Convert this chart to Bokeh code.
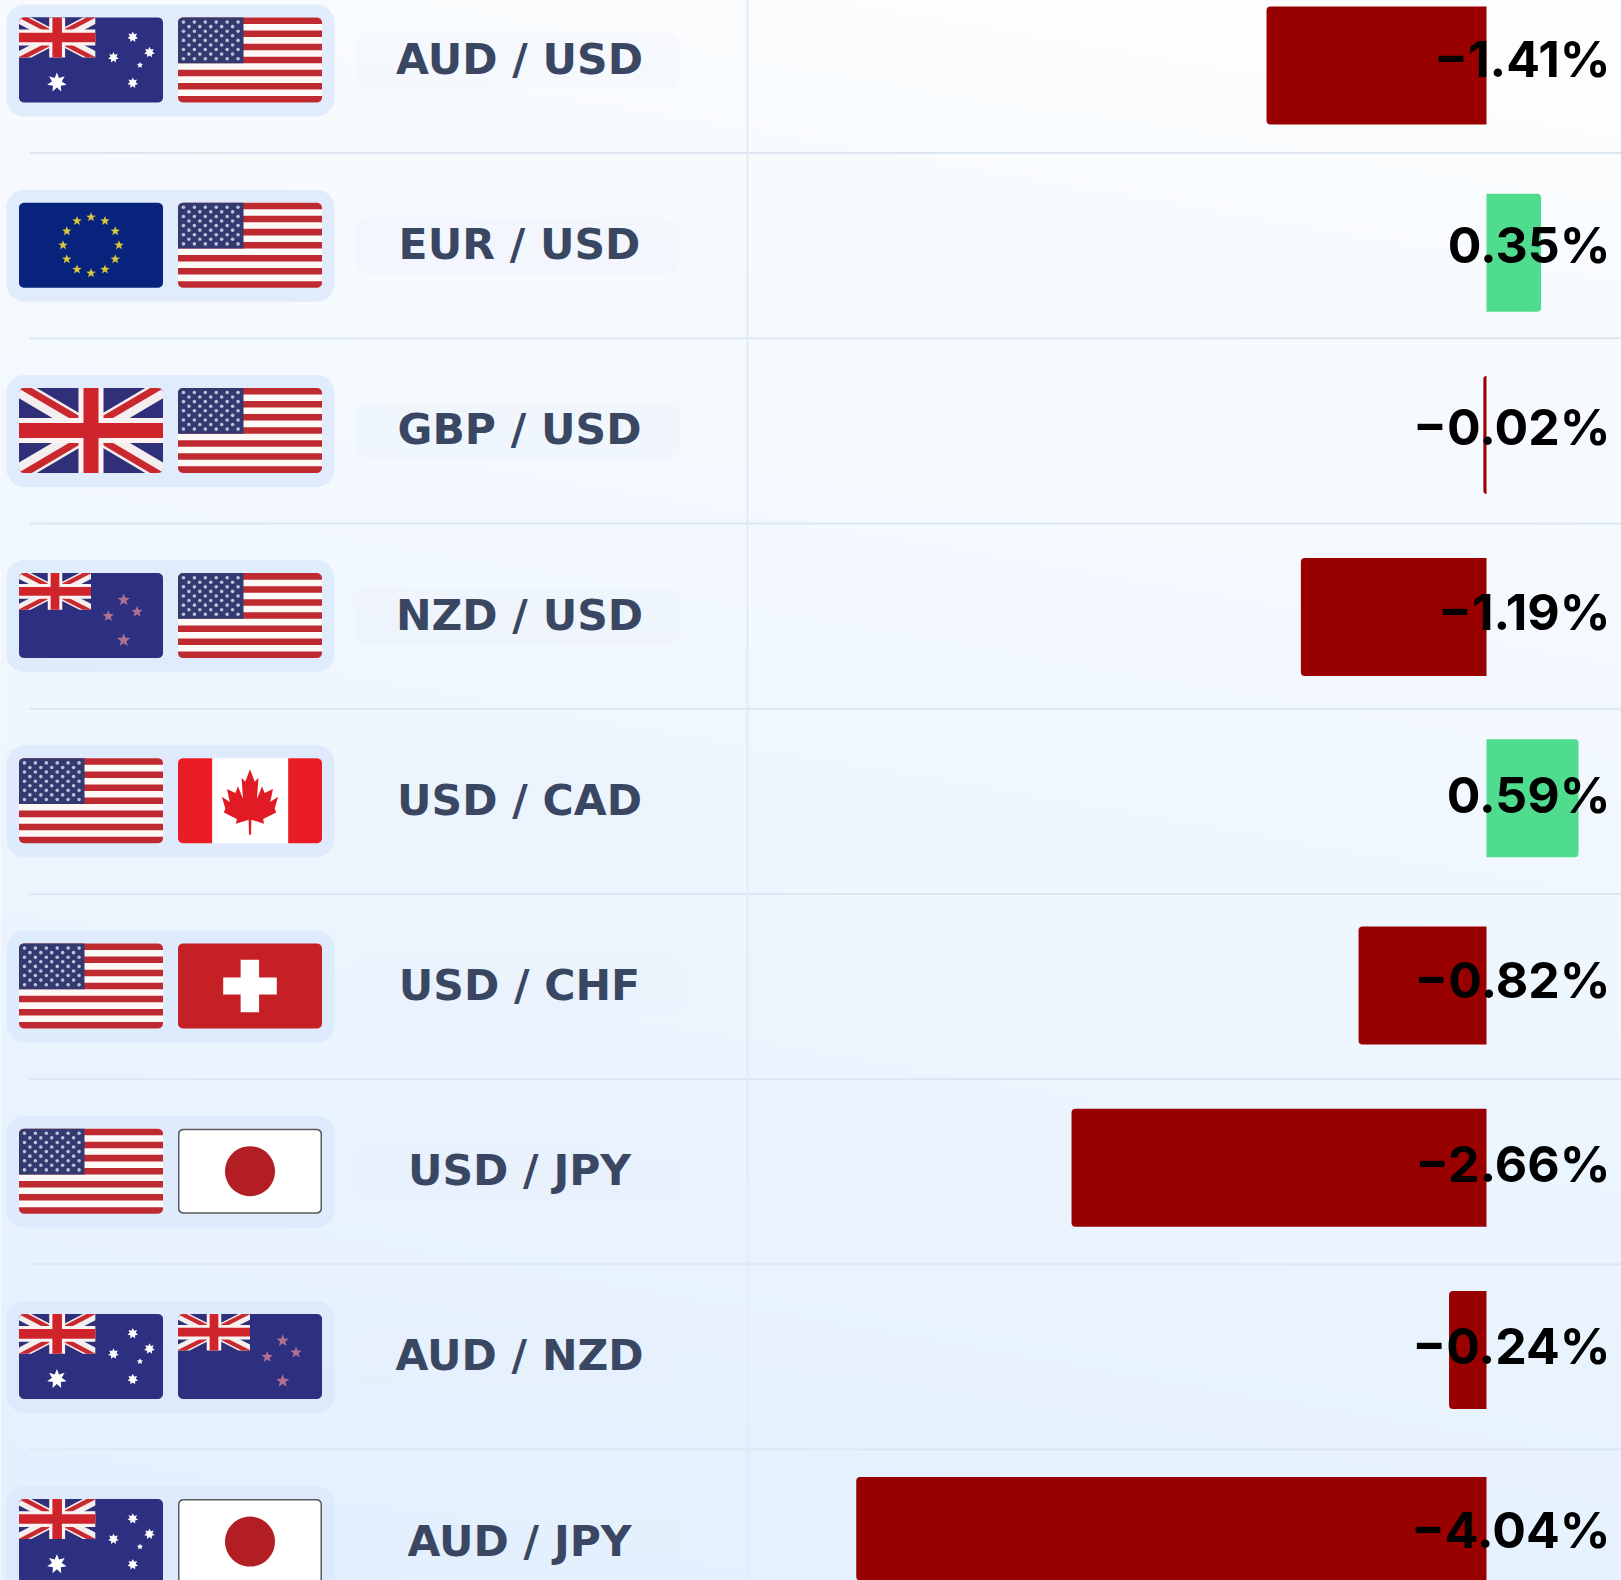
import math
import numpy as np
from bokeh.core.properties import value
from bokeh.embed import file_html
from bokeh.models import Range1d
from bokeh.plotting import figure
from bokeh.resources import INLINE

# ---- data ----
base = ["AUD", "EUR", "GBP", "NZD", "USD", "USD", "USD", "AUD", "AUD"]
quote = ["USD", "USD", "USD", "USD", "CAD", "CHF", "JPY", "NZD", "JPY"]
change = [-1.41, 0.35, -0.02, -1.19, 0.59, -0.82, -2.66, -0.24, -4.04]

# ---- layout ----
W, H = 1621, 1580
ROW0, STEP = 60.0, 185.2
ZERO_X, PX_PER_PCT = 1486.0, 156.0
BAR_H = 118.0
bar_nudge = [5, 7, 4, 1, -3, -1, -4, -7, -6]
text_nudge = [-2, -1, -4, -4, -6, -7, -8, -11, -12]

RED = "#990000"
GREEN = "#50dc8e"
INK = "#3a4763"
NAVY = "#2d2f80"
USRED = "#bf2a30"
USBLUE = "#343a70"

p = figure(width=W, height=H, toolbar_location=None, output_backend="svg",
           x_axis_type=None, y_axis_type=None, min_border=0, outline_line_color=None,
           x_range=Range1d(-ZERO_X / PX_PER_PCT, (W - ZERO_X) / PX_PER_PCT),
           y_range=Range1d((H - ROW0) / STEP, -ROW0 / STEP),
           margin=(0, -8, -8, 0))
p.extra_x_ranges = {"px": Range1d(0, W)}
p.extra_y_ranges = {"px": Range1d(H, 0), "up": Range1d(0, H)}
p.grid.visible = False
p.background_fill_color = "#f3f8fe"
p.border_fill_color = None
PX = dict(x_range_name="px", y_range_name="px")

# ---- background wash ----
ny, nx = 200, 200
yy, xx = np.mgrid[0:ny, 0:nx]
t = 1 - (yy / (ny - 1)) * 0.85 - (xx / (nx - 1)) * 0.15
t = np.clip(t, 0, 1)
c0, c1 = np.array([253, 254, 255]), np.array([226, 240, 254])
img = np.zeros((ny, nx), dtype=np.uint32)
view = img.view(dtype=np.uint8).reshape((ny, nx, 4))
for k in range(3):
    view[:, :, k] = (c0[k] + (c1[k] - c0[k]) * t).astype(np.uint8)
view[:, :, 3] = 255
p.image_rgba(image=[img], x=0, y=0, dw=W, dh=H, x_range_name="px", y_range_name="up")

# ---- separators ----
rows = list(range(len(change)))
p.segment(x0=[29] * 8, x1=[W] * 8, y0=[ROW0 + STEP * (i + .5) for i in rows[:8]],
          y1=[ROW0 + STEP * (i + .5) for i in rows[:8]], line_color="#dde7f1", line_width=2, **PX)
p.segment(x0=[747], x1=[747], y0=[0], y1=[H], line_color="#e2ebf5", line_width=2, **PX)

# ---- polygon helpers ----
polys_x, polys_y, polys_c = [], [], []
dots_x, dots_y = [], []


def round_rect(x0, y0, x1, y1, r, n=5):
    pts = []
    for cx, cy, a0 in ((x1 - r, y0 + r, -90), (x1 - r, y1 - r, 0), (x0 + r, y1 - r, 90), (x0 + r, y0 + r, 180)):
        for k in range(n + 1):
            a = math.radians(a0 + 90 * k / n)
            pts.append((cx + r * math.cos(a), cy + r * math.sin(a)))
    return pts


def clip_poly(subject, clip):
    out = subject
    m = len(clip)
    for i in range(m):
        ax, ay = clip[i]
        bx, by = clip[(i + 1) % m]
        def side(q):
            return (bx - ax) * (q[1] - ay) - (by - ay) * (q[0] - ax)
        inp, out = out, []
        if not inp:
            return []
        s = inp[-1]
        for e in inp:
            se, ss = side(e), side(s)
            if se >= 0:
                if ss < 0:
                    u = ss / (ss - se)
                    out.append((s[0] + u * (e[0] - s[0]), s[1] + u * (e[1] - s[1])))
                out.append(e)
            elif ss >= 0:
                u = ss / (ss - se)
                out.append((s[0] + u * (e[0] - s[0]), s[1] + u * (e[1] - s[1])))
            s = e
    return out


def add(color, pts, *clips):
    for c in clips:
        pts = clip_poly(pts, c)
    if pts:
        polys_x.append([q[0] for q in pts])
        polys_y.append([q[1] for q in pts])
        polys_c.append(color)


def star(cx, cy, R, n=5, ratio=0.42):
    pts = []
    for k in range(2 * n):
        a = -math.pi / 2 + k * math.pi / n
        r = R if k % 2 == 0 else R * ratio
        pts.append((cx + r * math.cos(a), cy + r * math.sin(a)))
    return pts


def band(a, b, t, off=0.0):
    dx, dy = b[0] - a[0], b[1] - a[1]
    L = math.hypot(dx, dy)
    nx_, ny_ = -dy / L, dx / L
    o0, o1 = off - t / 2, off + t / 2
    return [(a[0] + nx_ * o0, a[1] + ny_ * o0), (b[0] + nx_ * o0, b[1] + ny_ * o0),
            (b[0] + nx_ * o1, b[1] + ny_ * o1), (a[0] + nx_ * o1, a[1] + ny_ * o1)]


def rect(x0, y0, x1, y1):
    return [(x0, y0), (x1, y0), (x1, y1), (x0, y1)]


def jack(x0, y0, x1, y1, outer, k_scale=1.0):
    box = rect(x0, y0, x1, y1)
    s = (y1 - y0) / 85.0 * k_scale
    cx, cy = (x0 + x1) / 2, (y0 + y1) / 2
    add("#30307a", box, outer)
    corners = [(x0, y0), (x1, y0), (x1, y1), (x0, y1)]
    for k in (0, 1):
        add("#f4eeee", band(corners[k], corners[k + 2], 18 * s), box, outer)
    for k, c in enumerate(corners):
        add("#c9282f", band((cx, cy), c, 7 * s, (3 * s if k % 2 == 0 else -3 * s)), box, outer)
    add("#fbf3f2", rect(cx - 12.5 * s, y0, cx + 12.5 * s, y1), box, outer)
    add("#fbf3f2", rect(x0, cy - 12.5 * s, x1, cy + 12.5 * s), box, outer)
    add("#cf242c", rect(cx - 7.5 * s, y0, cx + 7.5 * s, y1), box, outer)
    add("#cf242c", rect(x0, cy - 7.5 * s, x1, cy + 7.5 * s), box, outer)


LEAF = [(0, 0), (.17, .19), (.30, .13), (.25, .45), (.43, .26), (.52, .36), (.82, .30), (.72, .50),
        (1, .42), (.88, .60), (.93, .66), (.47, .76), (.5, .83), (.05, .77), (.035, 1)]


def draw_flag(code, x0, yc):
    w, h = 144.0, 85.0
    y0, x1, y1 = yc - h / 2, x0 + w, yc + h / 2
    outer = round_rect(x0, y0, x1, y1, 5)
    U = lambda u: x0 + u * w
    V = lambda v: y0 + v * h
    if code == "USD":
        add("#fdf9f7", outer)
        for k in range(0, 13, 2):
            add(USRED, rect(x0, V(k / 13), x1, V((k + 1) / 13)), outer)
        add(USBLUE, rect(x0, y0, U(.455), V(7 / 13)), outer)
        for r in range(9):
            cols = 6 if r % 2 == 0 else 5
            for c in range(cols):
                dots_x.append(U(.455 * ((c + (.5 if r % 2 == 0 else 1)) / 6)))
                dots_y.append(V((7 / 13) * (r + 1) / 10))
    elif code in ("AUD", "NZD"):
        add(NAVY, outer)
        if code == "AUD":
            jack(x0, y0, U(.53), V(.47), outer, 1.35)
            add("#ffffff", star(U(.263), V(.765), 10, 7, .5))
            for u, v, R in ((.79, .23, 5.5), (.656, .47, 5.5), (.906, .41, 5.5), (.79, .77, 5.5)):
                add("#ffffff", star(U(u), V(v), R, 7, .55))
            add("#ffffff", star(U(.84), V(.56), 3.2, 5, .5))
        else:
            jack(x0, y0, U(.5), V(.43), outer, 1.35)
            for u, v, R in ((.727, .316, 6.5), (.82, .455, 6), (.62, .506, 6), (.727, .79, 7)):
                add("#b2708f", star(U(u), V(v), R))
    elif code == "EUR":
        add("#07237c", outer)
        for k in range(12):
            a = 2 * math.pi * k / 12
            add("#d8c63c", star(U(.5) + 28 * math.sin(a), yc - 28 * math.cos(a), 5))
    elif code == "GBP":
        jack(x0, y0, x1, y1, outer)
    elif code == "CAD":
        add("#ffffff", outer)
        add("#ea1c24", rect(x0, y0, U(.237), y1), outer)
        add("#ea1c24", rect(U(.765), y0, x1, y1), outer)
        leaf_top, leaf_h, half = V(.13), .77 * h, .195 * w
        leaf = [(U(.5) + a * half, leaf_top + b * leaf_h) for a, b in LEAF]
        leaf += [(U(.5) - a * half, leaf_top + b * leaf_h) for a, b in reversed(LEAF[1:])]
        add("#e01b23", leaf)
    elif code == "CHF":
        add("#c52026", outer)
        add("#ffffff", rect(U(.314), V(.40), U(.686), V(.60)))
        add("#ffffff", rect(U(.435), V(.19), U(.563), V(.81)))
    elif code == "JPY":
        add("#5a5a5a", outer)
        add("#ffffff", round_rect(x0 + 1.5, y0 + 1.5, x1 - 1.5, y1 - 1.5, 4))
        add("#b21e23", [(U(.5) + 25 * math.cos(k * math.pi / 24), yc + 25 * math.sin(k * math.pi / 24))
                        for k in range(48)])


# ---- pills behind flags and soft label backings ----
row_px = [ROW0 + STEP * i for i in rows]
p.quad(left=[6] * 9, right=[334] * 9, top=[y - 56 for y in row_px], bottom=[y + 56 for y in row_px],
       fill_color="#dbe9fb", fill_alpha=0.8, line_color=None, border_radius=18, **PX)
p.quad(left=[354] * 9, right=[680] * 9, top=[y - 28 for y in row_px], bottom=[y + 28 for y in row_px],
       fill_color="#e6eefa", fill_alpha=0.22, line_color=None, border_radius=14, **PX)

for i in rows:
    draw_flag(base[i], 18.5, row_px[i] - 0.5)
    draw_flag(quote[i], 177.5, row_px[i] - 0.5)

p.patches(xs=polys_x, ys=polys_y, fill_color=polys_c, line_color=None, **PX)
p.scatter(x=dots_x, y=dots_y, size=3.6, marker="circle", fill_color="#bcc3db", line_color=None, **PX)

# ---- pair labels ----
p.text(x=[519] * 9, y=[y - 1 for y in row_px], text=[f"{a} / {b}" for a, b in zip(base, quote)],
       text_font=value("DejaVu Sans"), text_font_style="bold", text_font_size="42.5px", text_color=INK,
       text_align="center", text_baseline="middle", **PX)

# ---- bars ----
neg = [i for i in rows if change[i] < 0]
pos = [i for i in rows if change[i] >= 0]
ypos = [i + bar_nudge[i] / STEP for i in rows]
hgt = BAR_H / STEP
p.hbar(y=[ypos[i] for i in neg], right=[0] * len(neg), left=[change[i] for i in neg], height=hgt,
       fill_color=RED, line_color=None, border_radius=(4, 0, 0, 4))
p.hbar(y=[ypos[i] for i in pos], left=[0] * len(pos), right=[change[i] for i in pos], height=hgt,
       fill_color=GREEN, line_color=None, border_radius=(0, 4, 4, 0))

# ---- value labels ----
labels = [f"{v:.2f}%".replace("-", "\u2212") for v in change]
p.text(x=[1610] * 9, y=[row_px[i] + text_nudge[i] for i in rows], text=labels,
       text_font=value("Inter"), text_font_style="bold", text_font_size="50px", text_color="#000000",
       text_align="right", text_baseline="middle", **PX)

open("out.html", "w").write(file_html(p, INLINE))
